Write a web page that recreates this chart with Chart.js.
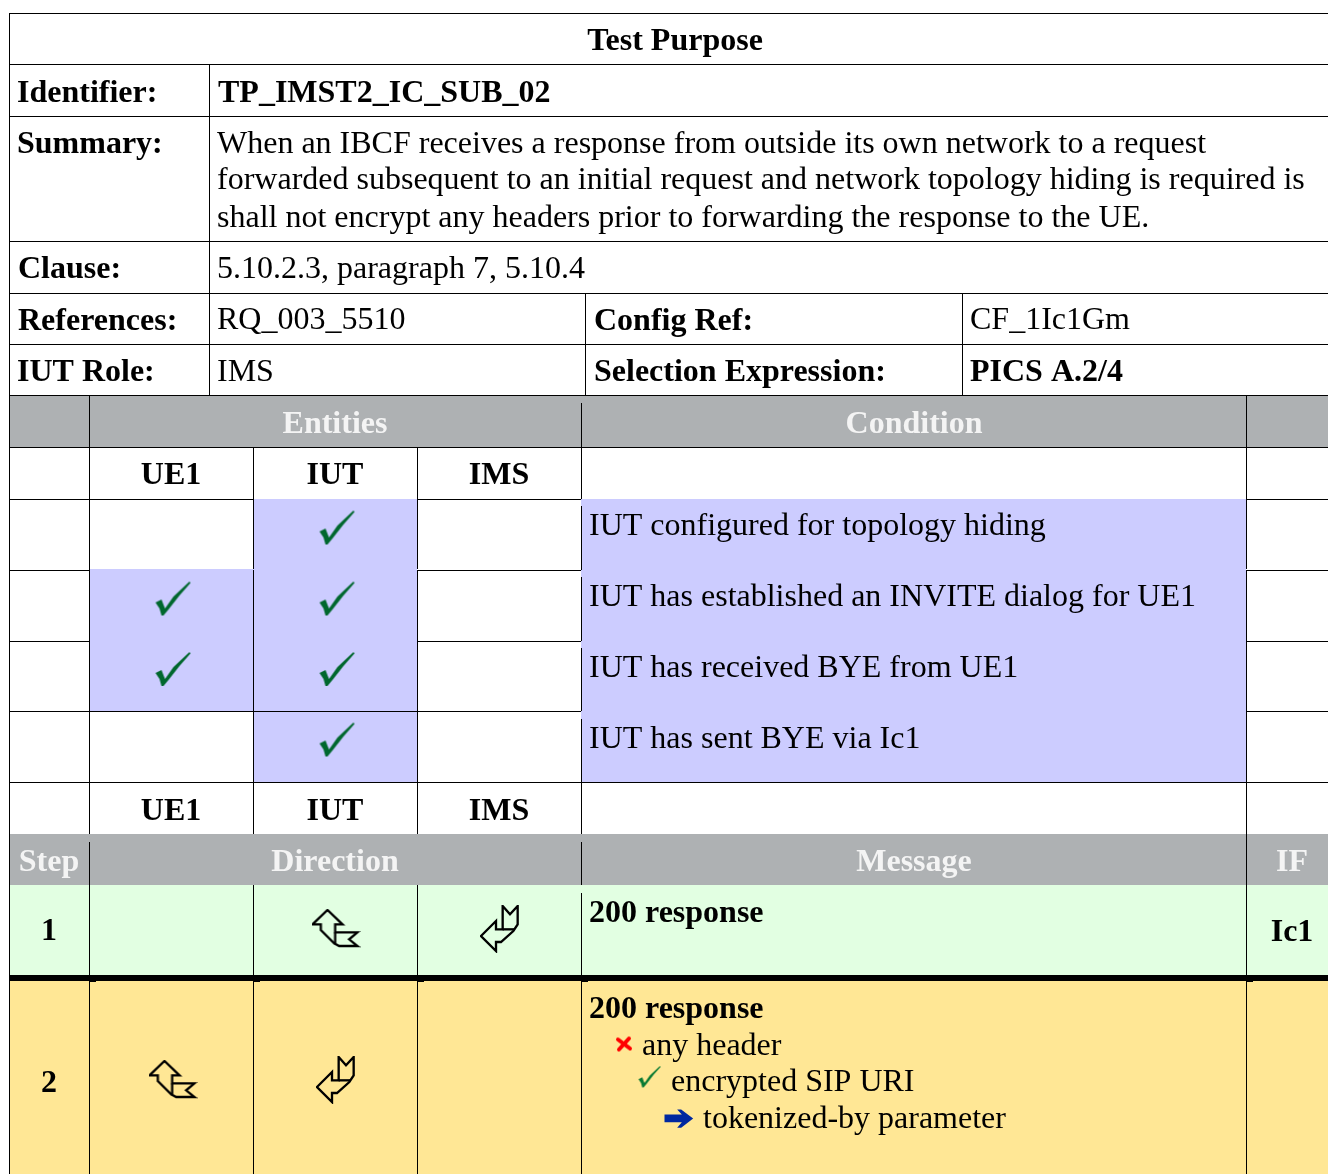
<!DOCTYPE html>
<html>
<head>
<meta charset="utf-8">
<title>Test Purpose</title>
<script src="https://cdn.jsdelivr.net/npm/chart.js@4"></script>
<style>
  html, body { margin: 0; background: #fff; }
  canvas { display: block; }
</style>
</head>
<body>
<canvas id="myChart" width="1328" height="1174"></canvas>
<script>
'use strict';

// Table content
let tableTitle = 'Test Purpose';
let identifierLabel = 'Identifier:';
let identifierValue = 'TP_IMST2_IC_SUB_02';
let summaryLabel = 'Summary:';
let summaryLines = [
  'When an IBCF receives a response from outside its own network to a request',
  'forwarded subsequent to an initial request and network topology hiding is required is',
  'shall not encrypt any headers prior to forwarding the response to the UE.'
];
let clauseLabel = 'Clause:';
let clauseValue = '5.10.2.3, paragraph 7, 5.10.4';
let metaLabels = ['References:', 'Config Ref:', 'IUT Role:', 'Selection Expression:'];
let metaValues = ['RQ_003_5510', 'CF_1Ic1Gm', 'IMS', 'PICS A.2/4'];
let entities = ['UE1', 'IUT', 'IMS'];
let conditionHeaders = ['Entities', 'Condition'];
let conditions = [
  'IUT configured for topology hiding',
  'IUT has established an INVITE dialog for UE1',
  'IUT has received BYE from UE1',
  'IUT has sent BYE via Ic1'
];
// one row per condition, one flag per entity
let conditionChecks = [
  [0, 1, 0],
  [1, 1, 0],
  [1, 1, 0],
  [0, 1, 0]
];
let stepHeaders = ['Step', 'Direction', 'Message', 'IF'];
let steps = ['1', '2'];
let stepMessages = ['200 response', '200 response'];
let stepInterfaces = ['Ic1', ''];
let messageDetails = ['any header', 'encrypted SIP URI', 'tokenized-by parameter'];

// Layout grid, in scale units
let xEdge = { left: 9, step: 89, ue1: 253, iut: 417, ims: 581, msg: 1246, end: 1328, label: 209, mid: 585, mid2: 962 };
let entityCenters = [171, 335, 499];
let conditionRowEdges = [499, 570, 641, 711, 782];

let rects = [];   // [x0, x1, y0, y1, colour, order]
let BLACK = '#000000';
let GREY = '#aeb1b3';
let BLUE = '#ccccff';
let GREEN = '#e2ffe2';
let YELLOW = '#ffe795';

function fill(x0, x1, y0, y1, colour) {
  rects.push([x0, x1, y0, y1, colour, 3]);
}
function hRule(y, x0, x1) {
  rects.push([x0, x1, y, y + 1, BLACK, 2]);
}
function vRule(x, y0, y1) {
  rects.push([x, x + 1, y0, y1, BLACK, 2]);
}

// Band and cell backgrounds
fill(xEdge.left, xEdge.end, 395, 447, GREY);
fill(xEdge.left, xEdge.end, 834, 885, GREY);
fill(xEdge.left, xEdge.end, 885, 975, GREEN);
fill(xEdge.left, xEdge.end, 981, 1174, YELLOW);
fill(xEdge.ims, xEdge.msg, 499, 782, BLUE);
conditionChecks.forEach(function (row, r) {
  row.forEach(function (flag, c) {
    if (flag) {
      let top = conditionRowEdges[r] - (r > 0 && c === 0 ? 1 : 0);
      fill(xEdge.step + c * 164, xEdge.step + (c + 1) * 164, top, conditionRowEdges[r + 1], BLUE);
    }
  });
});

// Horizontal rules
[13, 64, 116, 241, 293, 344, 395, 447, 782].forEach(function (y) {
  hRule(y, xEdge.left, xEdge.end);
});
hRule(499, xEdge.left, xEdge.ue1);
hRule(570, xEdge.left, xEdge.step);
hRule(641, xEdge.left, xEdge.step);
hRule(711, xEdge.left, xEdge.ims);
[499, 570, 641].forEach(function (y) {
  hRule(y, xEdge.iut, xEdge.ims);
});
[499, 570, 641, 711].forEach(function (y) {
  hRule(y, xEdge.msg, xEdge.end);
});
rects.push([xEdge.left, xEdge.end, 975, 981, BLACK, 2]);

// Vertical rules
vRule(xEdge.left, 13, 1174);
vRule(xEdge.label, 64, 395);
vRule(xEdge.mid, 293, 395);
vRule(xEdge.mid2, 293, 395);
[[395, 834], [842, 1174]].forEach(function (s) { vRule(xEdge.step, s[0], s[1]); });
[[447, 569], [570, 834], [885, 1174]].forEach(function (s) {
  vRule(xEdge.ue1, s[0], s[1]);
  vRule(xEdge.iut, s[0], s[1]);
});
[[403, 499], [506, 570], [577, 641], [648, 711], [719, 834], [842, 885], [893, 1174]].forEach(function (s) {
  vRule(xEdge.ims, s[0], s[1]);
});
[[395, 569], [571, 1174]].forEach(function (s) { vRule(xEdge.msg, s[0], s[1]); });
// small ticks under the thick rule
[xEdge.step, xEdge.ue1, xEdge.iut, xEdge.ims, xEdge.msg].forEach(function (x) {
  rects.push([x, x + 7, 981, 982, BLACK, 2]);
});

// Icons are small canvases used as point styles
function makeIcon(w, h, draw) {
  let c = document.createElement('canvas');
  c.width = w;
  c.height = h;
  draw(c.getContext('2d'));
  return c;
}
function polygon(ctx, pts) {
  ctx.beginPath();
  pts.forEach(function (p, i) {
    if (i === 0) ctx.moveTo(p[0], p[1]);
    else ctx.lineTo(p[0], p[1]);
  });
  ctx.closePath();
}
let tickShape = [[0, 21], [6, 18], [9.5, 27], [18, 15], [34, 0], [35, 1.5], [24, 14], [13, 28], [8, 34], [6, 34], [4, 27]];
function tickIcon(scale, colour) {
  return makeIcon(Math.ceil(35 * scale) + 2, Math.ceil(34 * scale) + 2, function (ctx) {
    ctx.translate(1, 1);
    ctx.scale(scale, scale);
    ctx.fillStyle = colour;
    polygon(ctx, tickShape);
    ctx.fill();
  });
}
let bigTick = tickIcon(1, '#00672e');
let smallTick = tickIcon(0.63, '#0a7a33');
let crossIcon = makeIcon(18, 17, function (ctx) {
  ctx.strokeStyle = '#ff0000';
  ctx.lineCap = 'round';
  ctx.lineWidth = 4;
  ctx.beginPath();
  ctx.moveTo(3, 4);
  ctx.lineTo(15, 13);
  ctx.moveTo(14, 3);
  ctx.lineTo(4, 14);
  ctx.stroke();
});
let blueArrow = makeIcon(30, 20, function (ctx) {
  ctx.translate(0.5, 0.5);
  ctx.scale(1 / 3, 1 / 3);
  ctx.fillStyle = '#0028a0';
  polygon(ctx, [[0, 15], [52, 15], [38, 0], [50, 0], [86, 27], [50, 55], [38, 55], [52, 38], [0, 38]]);
  ctx.fill();
});
let arrowIn = makeIcon(49, 40, function (ctx) {
  ctx.translate(1, 1);
  ctx.scale(1 / 3, 1 / 3);
  ctx.translate(-70, -60);
  ctx.strokeStyle = '#000';
  ctx.lineWidth = 7;
  polygon(ctx, [[70, 103], [115, 60], [160, 103], [138, 103], [138, 127], [205, 127], [180, 148], [205, 168], [150, 168], [135, 160], [95, 120], [95, 103]]);
  ctx.stroke();
  ctx.beginPath();
  ctx.moveTo(138, 127);
  ctx.lineTo(138, 163);
  ctx.stroke();
});
let arrowOut = makeIcon(40, 48, function (ctx) {
  ctx.translate(1, 1);
  ctx.scale(1 / 3, 1 / 3);
  ctx.translate(-575, -50);
  ctx.strokeStyle = '#000';
  ctx.lineWidth = 7;
  polygon(ctx, [[575, 140], [620, 95], [620, 120], [640, 120], [640, 50], [662, 75], [685, 50], [685, 105], [672, 125], [635, 158], [620, 158], [620, 185]]);
  ctx.stroke();
  ctx.beginPath();
  ctx.moveTo(640, 120);
  ctx.lineTo(675, 120);
  ctx.stroke();
});

let tickPoints = [];
conditionChecks.forEach(function (row, r) {
  row.forEach(function (flag, c) {
    if (flag) tickPoints.push({ x: entityCenters[c] + 2, y: (conditionRowEdges[r] + conditionRowEdges[r + 1]) / 2 - 7 });
  });
});

function pointSet(points, style) {
  return { type: 'scatter', data: points, pointStyle: style, pointRadius: 5, showLine: false, order: 0, xAxisID: 'x', yAxisID: 'y' };
}

let datasets = rects.map(function (r) {
  return {
    type: 'bar',
    data: [{ y: (r[2] + r[3]) / 2, x: [r[0], r[1]] }],
    barThickness: r[3] - r[2],
    backgroundColor: r[4],
    borderWidth: 0,
    inflateAmount: 0,
    grouped: false,
    order: r[5],
    xAxisID: 'x',
    yAxisID: 'y'
  };
});
datasets.push(pointSet(tickPoints, bigTick));
datasets.push(pointSet([{ x: 336, y: 929 }, { x: 173, y: 1080 }], arrowIn));
datasets.push(pointSet([{ x: 500, y: 929 }, { x: 336, y: 1080 }], arrowOut));
datasets.push(pointSet([{ x: 624, y: 1044 }], crossIcon));
datasets.push(pointSet([{ x: 650, y: 1077 }], smallTick));
datasets.push(pointSet([{ x: 679, y: 1119 }], blueArrow));

// Text of every cell: [text, x, baseline, align, bold, colour]
let BOLD = true;
let cellTexts = [];
function put(text, x, y, align, bold, colour) {
  cellTexts.push([text, x, y, align || 'left', bold || false, colour || '#000']);
}
put(tableTitle, 675, 50, 'center', BOLD);
put(identifierLabel, 17, 102, 'left', BOLD);
put(identifierValue, 218, 102, 'left', BOLD);
put(summaryLabel, 17, 153, 'left', BOLD);
[153, 189, 227].forEach(function (y, i) { put(summaryLines[i], 217, y); });
put(clauseLabel, 18, 278, 'left', BOLD);
put(clauseValue, 217, 278);
put(metaLabels[0], 18, 330, 'left', BOLD);
put(metaValues[0], 217, 329);
put(metaLabels[1], 594, 330, 'left', BOLD);
put(metaValues[1], 970, 329);
put(metaLabels[2], 17, 381, 'left', BOLD);
put(metaValues[2], 217, 381);
put(metaLabels[3], 594, 381, 'left', BOLD);
put(metaValues[3], 970, 381, 'left', BOLD);
put(conditionHeaders[0], 335, 433, 'center', BOLD, '#f4f4f4');
put(conditionHeaders[1], 914, 433, 'center', BOLD, '#f4f4f4');
entities.forEach(function (name, i) {
  put(name, entityCenters[i], 484, 'center', BOLD);
  put(name, entityCenters[i], 820, 'center', BOLD);
});
[535, 606, 677, 748].forEach(function (y, i) { put(conditions[i], 589, y); });
[49, 335, 914, 1292].forEach(function (x, i) { put(stepHeaders[i], x, 871, 'center', BOLD, '#f4f4f4'); });
put(steps[0], 49, 940, 'center', BOLD);
put(stepMessages[0], 589, 922, 'left', BOLD);
put(stepInterfaces[0], 1292, 941, 'center', BOLD);
put(steps[1], 49, 1092, 'center', BOLD);
put(stepMessages[1], 589, 1018, 'left', BOLD);
put(messageDetails[0], 642, 1055);
put(messageDetails[1], 671, 1091);
put(messageDetails[2], 703, 1128);

// Writes the cell text through the chart scales
let cellTextPlugin = {
  id: 'cellText',
  afterDatasetsDraw: function (chart) {
    let ctx = chart.ctx;
    let xScale = chart.scales.x;
    let yScale = chart.scales.y;
    ctx.save();
    cellTexts.forEach(function (t) {
      ctx.font = (t[4] ? 'bold ' : '') + '32px "Liberation Serif"';
      ctx.textAlign = t[3];
      ctx.textBaseline = 'alphabetic';
      ctx.fillStyle = t[5];
      ctx.fillText(t[0], xScale.getPixelForValue(t[1]), yScale.getPixelForValue(t[2]));
    });
    ctx.restore();
  }
};

let chartCtx = document.getElementById('myChart').getContext('2d');
let myChart = new Chart(chartCtx, { // eslint-disable-line
  type: 'bar',
  data: { datasets: datasets },
  plugins: [cellTextPlugin],
  options: {
    responsive: false,
    animation: false,
    datasets: { bar: { indexAxis: 'y' } },
    layout: { padding: 0, autoPadding: false },
    plugins: { legend: { display: false }, tooltip: { enabled: false } },
    scales: {
      x: { type: 'linear', min: 0, max: 1328, offset: false, display: false },
      y: { type: 'linear', min: 0, max: 1174, offset: false, reverse: true, display: false }
    }
  }
});
</script>
</body>
</html>
